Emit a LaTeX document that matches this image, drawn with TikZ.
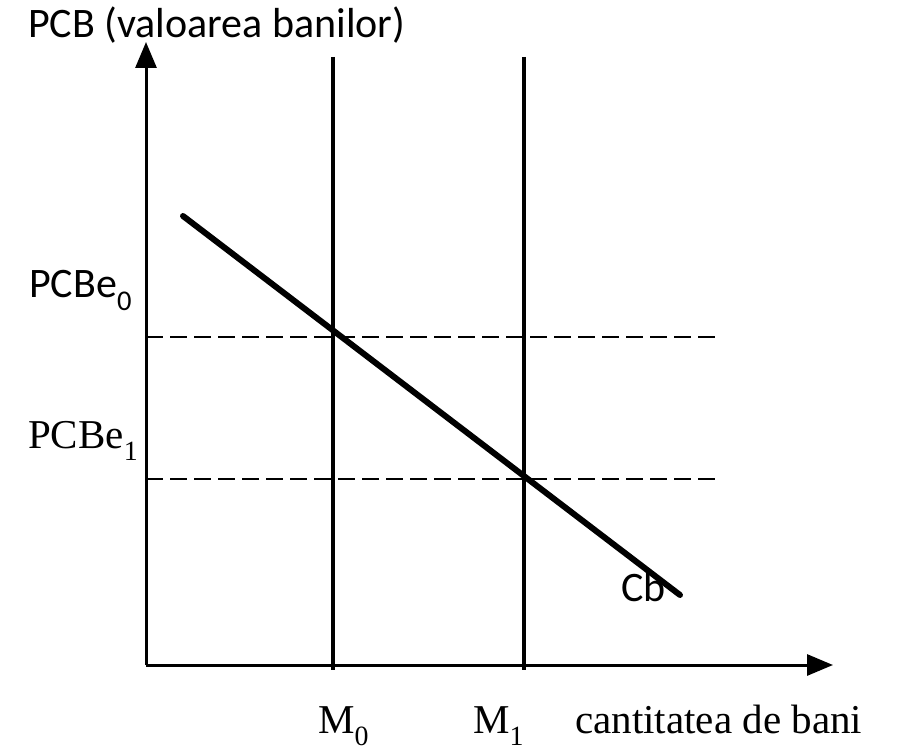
\documentclass[tikz,border=0pt]{standalone}
\usepackage{fontspec}
\setmainfont{Liberation Serif}
\newfontfamily\calfont{Carlito}
\usetikzlibrary{arrows.meta}
\newcommand{\mysub}[1]{\raisebox{-0.3em}{\scalebox{0.68}{#1}}}
\begin{document}
\begin{tikzpicture}[x=1pt,y=-1pt,
  axis/.style={line width=3pt,-{Triangle[length=26pt,width=21pt]}},
  vline/.style={line width=4pt},
  dline/.style={line width=2.6pt,dash pattern=on 17pt off 7pt},
  curve/.style={line width=6pt,line cap=round},
  sanslbl/.style={inner sep=0pt,anchor=base west,font=\calfont\fontsize{42}{46}\selectfont},
  seriflbl/.style={inner sep=0pt,anchor=base west,font=\fontsize{41}{45}\selectfont}]
\useasboundingbox (0,0) rectangle (897,754);
\fill[white] (0,0) rectangle (897,754);
\coordinate (O) at (146,665);
\coordinate (Ytop) at (146,42);
\coordinate (Xend) at (833,665);
\coordinate (M0t) at (333,57);
\coordinate (M0b) at (333,670);
\coordinate (M1t) at (524,57);
\coordinate (M1b) at (524,670);
\coordinate (D0a) at (146,337);
\coordinate (D0b) at (716,337);
\coordinate (D1a) at (146,479);
\coordinate (D1b) at (716,479);
\coordinate (Ca) at (183,216);
\coordinate (Cb) at (680,595);
\draw[dline] (D0a) -- (D0b);
\draw[dline] (D1a) -- (D1b);
\draw[vline] (M0t) -- (M0b);
\draw[vline] (M1t) -- (M1b);
\draw[axis] (O) -- (Ytop);
\draw[axis] (O) -- (Xend);
\draw[curve] (Ca) -- (Cb);
\node[sanslbl] (title) at (28,38) {PCB (valoarea banilor)};
\node[sanslbl] (pe0) at (29,298) {PCBe\mysub{0}};
\node[seriflbl] (pe1) at (28,448) {PCBe\mysub{1}};
\node[seriflbl] (m0) at (318,733) {M\mysub{0}};
\node[seriflbl] (m1) at (473,733) {M\mysub{1}};
\node[seriflbl] (qty) at (575,733) {cantitatea de bani};
\node[sanslbl] (cb) at (621,601) {Cb};
\end{tikzpicture}
\end{document}
